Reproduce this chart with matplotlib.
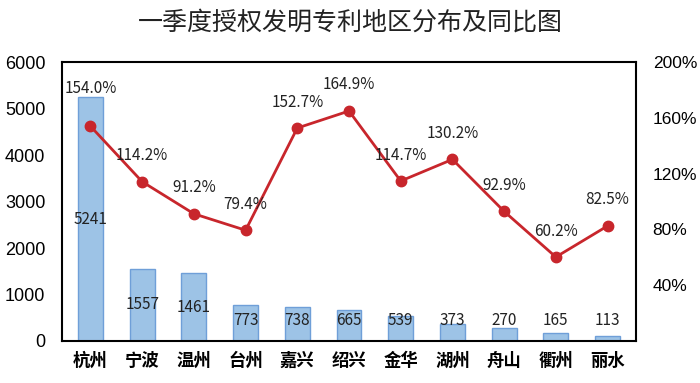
import matplotlib.pyplot as plt
import numpy as np

plt.rcParams['font.family'] = ['Noto Sans CJK SC', 'DejaVu Sans']

# 数据
cities = ['杭州', '宁波', '温州', '台州', '嘉兴', '绍兴', '金华', '湖州', '舟山', '衢州', '丽水']
patents = [5241, 1557, 1461, 773, 738, 665, 539, 373, 270, 165, 113]
yoy = [154.0, 114.2, 91.2, 79.4, 152.7, 164.9, 114.7, 130.2, 92.9, 60.2, 82.5]
left_ticks = [0, 1000, 2000, 3000, 4000, 5000, 6000]
right_ticks = [40, 80, 120, 160, 200]

fig = plt.figure(figsize=(7, 3.83), dpi=100)
ax = fig.add_axes([0.0886, 0.1097, 0.82, 0.7283])
x = np.arange(len(cities))

# 柱状图
ax.bar(x, patents, width=0.48, color='#9DC3E6', edgecolor='#6F9FD8', linewidth=1, zorder=2)
for xi, v in zip(x, patents):
    ax.text(xi, max(v / 2, 450), str(v), ha='center', va='center', fontsize=11, color='#222222', zorder=4)

ax.set_ylim(0, 6000)
ax.set_xlim(-0.55, len(cities) - 0.45)
ax.set_yticks(left_ticks)
ax.set_yticklabels([str(t) for t in left_ticks], fontsize=13, family='Liberation Sans')
ax.set_xticks(x)
ax.set_xticklabels(cities, fontsize=12.5, fontweight='bold')
ax.tick_params(axis='both', length=0, pad=8)
ax.tick_params(axis='y', pad=12)
for s in ax.spines.values():
    s.set_linewidth(1.5)
    s.set_color('black')

# 同比折线
ax2 = ax.twinx()
ax2.plot(x, yoy, color='#C8262C', linewidth=2, marker='o', markersize=7.5, zorder=3)
for xi, v in zip(x, yoy):
    off = 38 if xi == 0 else 26
    ax2.annotate(f'{v:.1f}%', (xi, v), xytext=(0, off), textcoords='offset pixels',
                 ha='center', va='center', fontsize=11, color='#222222')
ax2.set_ylim(0, 200)
ax2.set_yticks(right_ticks)
ax2.set_yticklabels([f'{t}%' for t in right_ticks], fontsize=12.5, family='Liberation Sans')
ax2.tick_params(axis='y', length=0, pad=12)
for s in ax2.spines.values():
    s.set_visible(False)

fig.suptitle('一季度授权发明专利地区分布及同比图', x=0.5, y=0.975, fontsize=18, color='#222222')

plt.savefig('out.png', dpi=100)
